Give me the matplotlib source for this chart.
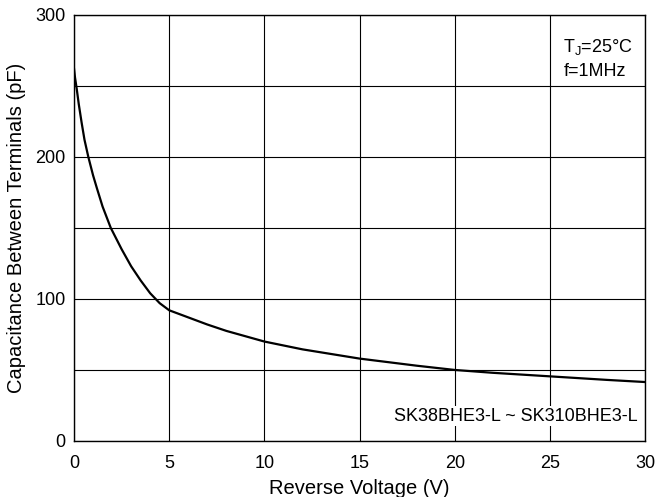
import matplotlib
matplotlib.use("Agg")
import matplotlib.pyplot as plt
from matplotlib.ticker import MultipleLocator

plt.rcParams['font.family'] = ['Liberation Sans', 'DejaVu Sans']

voltage = [0, 0.05, 0.14, 0.25, 0.4, 0.55, 0.75, 1.0, 1.2, 1.5, 1.93, 2.5, 3, 3.5, 4, 4.5, 5, 6, 7, 8, 10, 12, 15, 18, 20, 22, 25, 28, 30]
capacitance = [262, 256, 248, 237, 224, 212, 200, 187, 178, 165, 150, 135, 123, 113, 104, 97, 92, 87, 82, 77.5, 70, 64.5, 58, 53, 50, 48, 45.5, 43, 41.5]

fig = plt.figure(figsize=(6.61, 4.97), dpi=100)
ax = fig.add_axes([0.112, 0.1127, 0.864, 0.8575])

ax.plot(voltage, capacitance, color='black', linewidth=1.6)

ax.set_xlim(0, 30)
ax.set_ylim(0, 300)
ax.xaxis.set_major_locator(MultipleLocator(5))
ax.yaxis.set_major_locator(MultipleLocator(100))
ax.yaxis.set_minor_locator(MultipleLocator(50))
ax.grid(which='both', color='black', linewidth=0.8)
ax.tick_params(which='both', length=0, labelsize=13)
ax.tick_params(axis='x', pad=10)
ax.tick_params(axis='y', pad=6)
for s in ax.spines.values():
    s.set_linewidth(1.0)

ax.set_xlabel('Reverse Voltage (V)', fontsize=14.5, labelpad=5)
ax.set_ylabel('Capacitance Between Terminals (pF)', fontsize=14.5, labelpad=7)

ax.text(25.7, 277, 'T$_\\mathregular{J}$=25°C', fontsize=13, va='center', ha='left')
ax.text(25.7, 260, 'f=1MHz', fontsize=13, va='center', ha='left')
ax.text(29.6, 17.5, 'SK38BHE3-L ~ SK310BHE3-L', fontsize=13, va='center', ha='right',
        bbox=dict(facecolor='white', edgecolor='none', pad=1))

fig.savefig('out.png', dpi=100)
